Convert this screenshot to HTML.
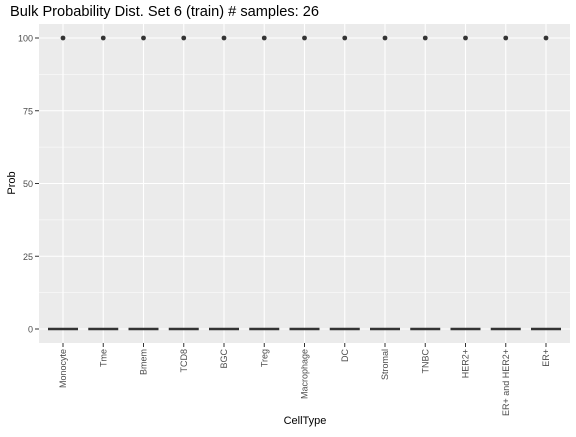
<!DOCTYPE html>
<html><head><meta charset="utf-8"><style>
body{margin:0;background:#fff;font-family:"Liberation Sans",sans-serif}
</style></head><body>
<svg width="576" height="432" xmlns="http://www.w3.org/2000/svg" font-family="Liberation Sans, sans-serif">
<text x="10" y="16" font-size="14.6" fill="#000">Bulk Probability Dist. Set 6 (train) # samples: 26</text>
<rect x="39" y="24" width="531" height="319" fill="#ebebeb"/>
<g id="grid"></g><g id="marks"></g><g id="axes"></g>
<text x="305" y="424" font-size="11" text-anchor="middle">CellType</text>
<text transform="translate(15,183) rotate(-90)" font-size="11" text-anchor="middle">Prob</text>
</svg>
<script>
const categories=["Monocyte","Tme","Bmem","TCD8","BGC","Treg","Macrophage","DC","Stromal","TNBC","HER2+","ER+ and HER2+","ER+"];
const medians=[0,0,0,0,0,0,0,0,0,0,0,0,0];
const outliers=[100,100,100,100,100,100,100,100,100,100,100,100,100];
const yTicks=[0,25,50,75,100];
const NS="http://www.w3.org/2000/svg";
const x=i=>63+i*40.25, y=v=>329-v*2.91;
function mk(p,t,a){const e=document.createElementNS(NS,t);for(const k in a)e.setAttribute(k,a[k]);p.appendChild(e);return e;}
const grid=document.getElementById('grid'),marks=document.getElementById('marks'),axes=document.getElementById('axes');
yTicks.forEach((v,i)=>{
 if(i<yTicks.length-1){const m=mk(grid,'line',{x1:39,x2:570,y1:y(v+12.5),y2:y(v+12.5),stroke:'#fff','stroke-width':0.5});
 
 }
 const g=mk(grid,'line',{x1:39,x2:570,y1:y(v),y2:y(v),stroke:'#fff','stroke-width':1.1});
 
 
 const t=mk(axes,'line',{x1:35,x2:39,y1:y(v),y2:y(v),stroke:'#333','stroke-width':1});
 
 
 const l=mk(axes,'text',{x:33,y:y(v)+3.5,'font-size':9,'text-anchor':'end',fill:'#4d4d4d'});
 l.textContent=v;
 
 
});
categories.forEach((c,i)=>{
 const g=mk(grid,'line',{x1:x(i),x2:x(i),y1:24,y2:343,stroke:'#fff','stroke-width':1.1});
 
 
 const w=mk(marks,'line',{x1:x(i),x2:x(i),y1:y(medians[i]),y2:y(outliers[i]),stroke:'#333','stroke-width':0.5,opacity:0});
 
 
 const b=mk(marks,'line',{x1:x(i)-15,x2:x(i)+15,y1:y(medians[i]),y2:y(medians[i]),stroke:'#333','stroke-width':2.5});
 
 
 const p=mk(marks,'circle',{cx:x(i),cy:y(outliers[i]),r:2.4,fill:'#333'});
 
 
 const t=mk(axes,'line',{x1:x(i),x2:x(i),y1:343,y2:347,stroke:'#333','stroke-width':1});
 
 
 const l=mk(axes,'text',{transform:`translate(${x(i)+3},349) rotate(-90)`,'font-size':9,'text-anchor':'end',fill:'#4d4d4d'});
 l.textContent=c;
 
 
});
</script>
</body></html>
